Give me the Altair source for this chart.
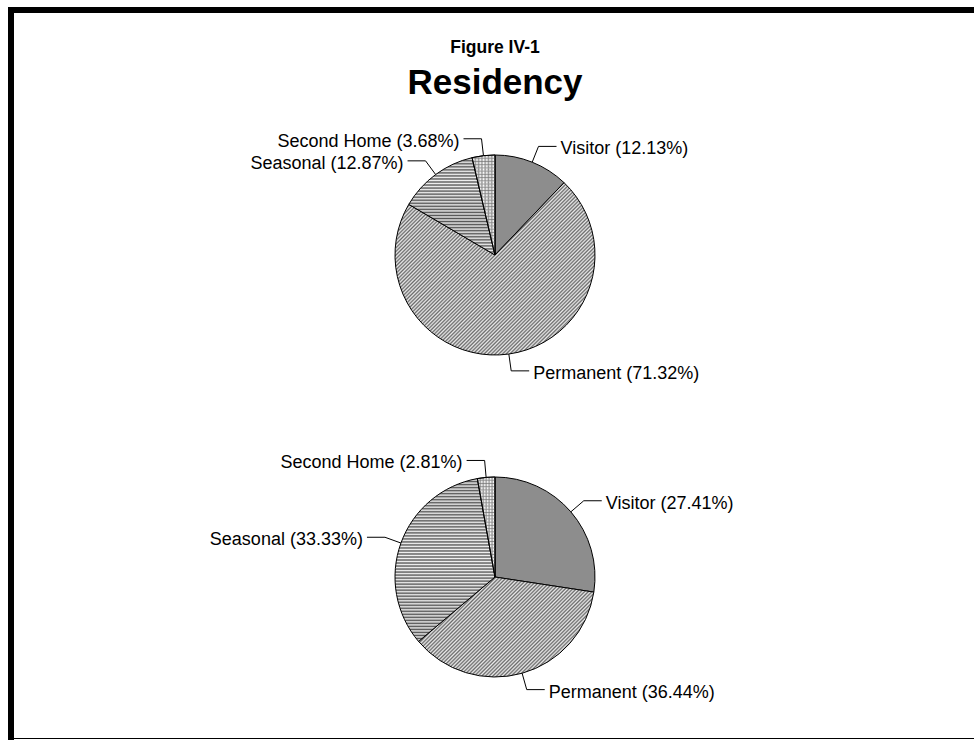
import math

import altair as alt
import pandas as pd

# ---- data -------------------------------------------------------------
CATEGORIES = ["Visitor", "Permanent", "Seasonal", "Second Home"]
UPPER_SHARES = [12.13, 71.32, 12.87, 3.68]
LOWER_SHARES = [27.41, 36.44, 33.33, 2.81]
TITLE_LINES = ["Figure IV-1", "Residency"]

# ---- layout / style ---------------------------------------------------
W, H = 974, 740
R = 100            # pie radius (px)
ELBOW_R = 117      # radius where the leader line bends
SHELF = 18         # horizontal part of the leader line
GAP = 4            # space between leader line and label
FONT = "Liberation Sans"
LABEL_SIZE = 18

PANELS = [
    {"key": "upper", "shares": UPPER_SHARES, "cx": 495, "cy": 255},
    {"key": "lower", "shares": LOWER_SHARES, "cx": 495, "cy": 577},
]


def arc_bbox(a0, a1, r):
    """Width/height of a pie wedge (angles in radians, clockwise from 12 o'clock)."""
    pts = [(0.0, 0.0)]
    steps = 720
    for i in range(steps + 1):
        a = a0 + (a1 - a0) * i / steps
        pts.append((r * math.sin(a), -r * math.cos(a)))
    xs = [p[0] for p in pts]
    ys = [p[1] for p in pts]
    return max(xs) - min(xs), max(ys) - min(ys)


def _stop(o, c):
    return alt.GradientStop(offset=round(min(max(o, 0.0), 1.0), 5), color=c)


def stripes(n, dark, light, x2, y2):
    """Soft (triangle-wave) stripes: n repeats along the gradient vector."""
    stops = []
    for i in range(n):
        stops += [_stop(i / n, dark), _stop((i + 0.5) / n, light)]
    stops.append(_stop(1.0, dark))
    return alt.LinearGradient(gradient="linear", stops=stops, x1=0, y1=0, x2=x2, y2=y2)


def diagonal(w, h, period, dark, light):
    k = 1.0 / max(w, h)
    n = max(1, round(k * (w * w + h * h) / (math.sqrt(2) * period)))
    return stripes(n, dark, light, k * w, k * h)


def horizontal(h, period, dark, light):
    return stripes(max(1, round(h / period)), dark, light, 0, 1)


def vertical(w, period, dark, light):
    return stripes(max(1, round(w / period)), dark, light, 1, 0)


def wedge_fills(cat, w, h):
    if cat == "Visitor":
        return ["#8d8d8d"]
    if cat == "Permanent":
        return [diagonal(w, h, 2.6, "#6a6a6a", "#eaeaea")]
    if cat == "Seasonal":
        return [horizontal(h, 3.0, "#555555", "#f0f0f0")]
    # Second Home: fine grid (vertical stripes under horizontal ones)
    return [
        vertical(w, 3.2, "#8a8a8a", "#ffffff"),
        horizontal(h, 3.2, "rgba(120,120,120,0.8)", "rgba(255,255,255,0)"),
    ]


theta = alt.Theta("start:Q", scale=alt.Scale(domain=[0, 100], range=[0, 2 * math.pi]))
px_x = lambda f: alt.X(f, scale=None, axis=None)
px_y = lambda f: alt.Y(f, scale=None, axis=None)

layers = []

for p in PANELS:
    df = pd.DataFrame(
        {"category": CATEGORIES, "share": p["shares"], "order": list(range(len(CATEGORIES)))}
    )
    cx, cy = p["cx"], p["cy"]
    base = alt.Chart(df).transform_window(
        cum="sum(share)", sort=[alt.SortField("order")], frame=[None, 0]
    ).transform_calculate(start="datum.cum - datum.share", end="datum.cum")

    # wedges
    acc = 0.0
    for cat, share in zip(CATEGORIES, p["shares"]):
        a0 = acc / 100 * 2 * math.pi
        acc += share
        a1 = acc / 100 * 2 * math.pi
        w, h = arc_bbox(a0, a1, R)
        for f in wedge_fills(cat, w, h):
            layers.append(
                base.transform_filter(alt.datum.category == cat)
                .mark_arc(fill=f, stroke="black", strokeWidth=1, radius=R)
                .encode(theta=theta, theta2="end:Q", x=alt.value(cx), y=alt.value(cy))
            )

    # leader lines and labels
    lab = base.transform_calculate(
        mid="(datum.start + datum.share / 2) / 100 * 2 * PI",
    ).transform_calculate(
        side="sin(datum.mid) >= 0 ? 1 : -1",
        ex=f"{cx} + {R} * sin(datum.mid)",
        ey=f"{cy} - {R} * cos(datum.mid)",
        bx=f"{cx} + {ELBOW_R} * sin(datum.mid)",
        by=f"{cy} - {ELBOW_R} * cos(datum.mid)",
    ).transform_calculate(
        tx=f"datum.bx + datum.side * {SHELF}",
        lx=f"datum.bx + datum.side * {SHELF + GAP}",
        ly="datum.by + 3",
        label="datum.category + ' (' + format(datum.share, '.2f') + '%)'",
    )
    layers.append(
        lab.mark_rule(color="black", strokeWidth=1).encode(
            x=px_x("ex:Q"), y=px_y("ey:Q"), x2="bx:Q", y2="by:Q"
        )
    )
    layers.append(
        lab.mark_rule(color="black", strokeWidth=1).encode(
            x=px_x("bx:Q"), y=px_y("by:Q"), x2="tx:Q", y2="by:Q"
        )
    )
    for side, align in ((1, "left"), (-1, "right")):
        layers.append(
            lab.transform_filter(f"datum.side == {side}")
            .mark_text(align=align, baseline="middle", font=FONT, fontSize=LABEL_SIZE, color="black")
            .encode(x=px_x("lx:Q"), y=px_y("ly:Q"), text="label:N")
        )

# titles
for txt, y, size in ((TITLE_LINES[0], 48, 17.5), (TITLE_LINES[1], 83, 35)):
    layers.append(
        alt.Chart(pd.DataFrame({"t": [txt]}))
        .mark_text(align="center", baseline="middle", font=FONT, fontSize=size, fontWeight="bold", color="black")
        .encode(text="t:N", x=alt.value(495), y=alt.value(y))
    )

# page frame
frame = pd.DataFrame({"part": ["frame"]})
for x0, x1, y0, y1 in ((8, 14, 7, H), (8, W, 7, 13), (8, W, 738, 739)):
    layers.append(
        alt.Chart(frame).mark_rect(color="black").encode(
            x=alt.value(x0), x2=alt.value(x1), y=alt.value(y0), y2=alt.value(y1)
        )
    )

chart = (
    alt.layer(*layers)
    .properties(width=W, height=H, padding=0, background="white",
                autosize=alt.AutoSizeParams(type="none"))
    .configure_view(stroke=None)
)

chart.save("out.html", embed_options={"renderer": "svg", "actions": False})
